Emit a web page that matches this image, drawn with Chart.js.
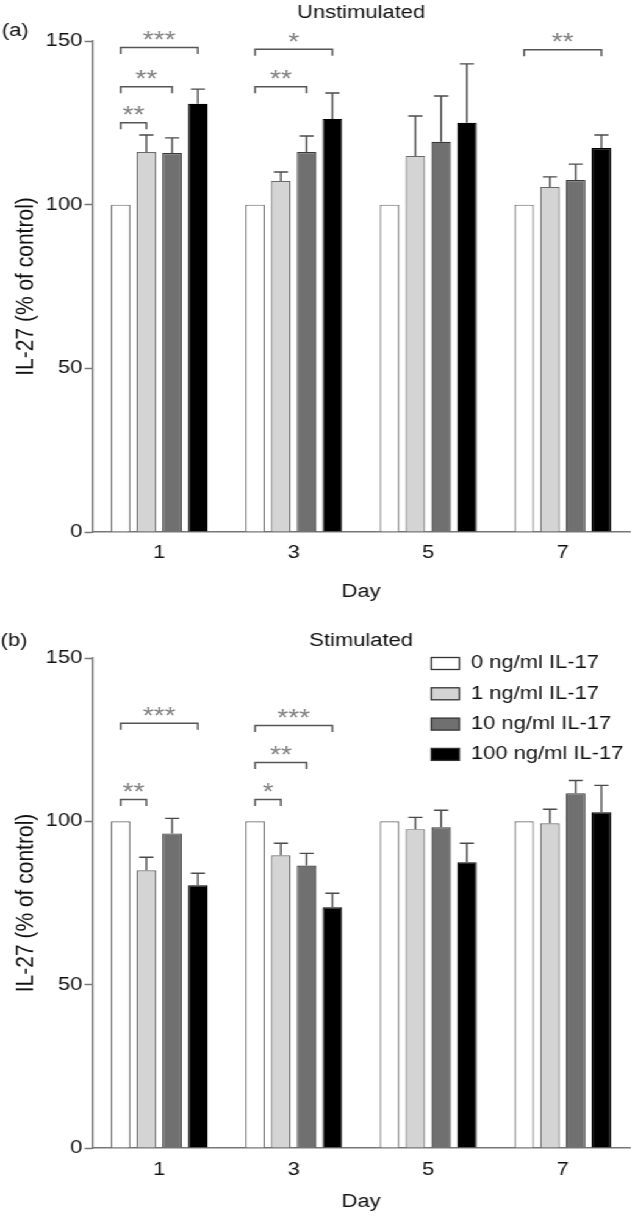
<!DOCTYPE html>
<html><head><meta charset="utf-8">
<script src="https://cdn.jsdelivr.net/npm/chart.js@4.4.1/dist/chart.umd.min.js"></script>
<style>
html,body{margin:0;padding:0;background:#fff;overflow:hidden;width:632px;height:1216px;}
#stage{position:absolute;left:0;top:0;width:518px;height:1216px;transform:scaleX(1.22);transform-origin:0 0;}
#pa{position:absolute;left:0;top:0;width:518px;height:610px;}
#pb{position:absolute;left:0;top:616px;width:518px;height:600px;}
</style></head><body>
<div id="stage"><div id="pa"><canvas id="ca"></canvas></div><div id="pb"><canvas id="cb"></canvas></div></div>
<script>
// ---- data ----
const days = ['1', '3', '5', '7'];
const seriesLabels = ['0 ng/ml IL-17', '1 ng/ml IL-17', '10 ng/ml IL-17', '100 ng/ml IL-17'];
const yTicks = [0, 50, 100, 150];

const unstim0   = [100, 100, 100, 100];
const unstim1   = [116.1, 107.2, 114.9, 105.4];
const unstim10  = [115.8, 116.1, 119.2, 107.5];
const unstim100 = [130.8, 126.2, 125.0, 117.3];
const unstimErr1   = [5.2, 2.8, 12.2, 3.1];
const unstimErr10  = [4.6, 4.9, 14.0, 4.9];
const unstimErr100 = [4.5, 7.9, 18.0, 4.0];

const stim0   = [100, 100, 100, 100];
const stim1   = [85.0, 89.6, 97.6, 99.4];
const stim10  = [96.3, 86.5, 98.2, 108.6];
const stim100 = [80.4, 73.7, 87.5, 102.8];
const stimErr1   = [4.0, 3.7, 3.6, 4.3];
const stimErr10  = [4.6, 3.7, 5.2, 3.9];
const stimErr100 = [3.7, 4.3, 5.8, 8.2];

// significance brackets: [day index, from series, to series, level, stars]
const unstimSig = [[0,0,1,125,'**'], [0,0,2,136,'**'], [0,0,3,148,'***'], [1,0,2,136,'**'], [1,0,3,147.5,'*'], [3,0,3,147.3,'**']];
const stimSig   = [[0,0,1,106.7,'**'], [0,0,3,130,'***'], [1,0,1,106.7,'*'], [1,0,2,118,'**'], [1,0,3,129.3,'***']];

// ---- styling ----
const FAM = '"Liberation Sans", Arial, Helvetica, sans-serif';
Chart.defaults.font.family = FAM;
const fills   = ['#ffffff', '#d4d4d4', '#707070', '#000000'];
const borders = ['#6a6a6a', '#6a6a6a', '#3a3a3a', '#000000'];

const extras = {
  id: 'extras',
  afterDatasetsDraw(chart, args, o) {
    const ctx = chart.ctx, ys = chart.scales.y, ca = chart.chartArea;
    ctx.save();
    // error bars
    ctx.strokeStyle = '#4a4a4a'; ctx.lineWidth = 1.4;
    o.errors.forEach((arr, di) => {
      if (!arr) return;
      chart.getDatasetMeta(di).data.forEach((bar, j) => {
        const v = chart.data.datasets[di].data[j];
        const top = ys.getPixelForValue(v + arr[j]);
        ctx.beginPath();
        ctx.moveTo(bar.x, bar.y); ctx.lineTo(bar.x, top);
        ctx.moveTo(bar.x - 5.8, top); ctx.lineTo(bar.x + 5.8, top);
        ctx.stroke();
      });
    });
    // significance brackets
    o.sig.forEach(([d, a, b, lvl, txt]) => {
      const xa = chart.getDatasetMeta(a).data[d].x, xb = chart.getDatasetMeta(b).data[d].x;
      const yy = ys.getPixelForValue(lvl);
      ctx.strokeStyle = '#555'; ctx.lineWidth = 1.5;
      ctx.beginPath();
      ctx.moveTo(xa, yy + 6.5); ctx.lineTo(xa, yy); ctx.lineTo(xb, yy); ctx.lineTo(xb, yy + 6.5);
      ctx.stroke();
      ctx.fillStyle = '#808080'; ctx.font = '23px ' + FAM;
      ctx.textAlign = 'center'; ctx.textBaseline = 'alphabetic';
      ctx.fillText(txt, (xa + xb) / 2, yy + 0.5);
    });
    // panel label and title
    ctx.fillStyle = '#111'; ctx.font = '18px ' + FAM; ctx.textBaseline = 'alphabetic';
    ctx.textAlign = 'left'; ctx.fillText(o.panel, o.panelX, o.panelY);
    ctx.textAlign = 'center'; ctx.fillText(o.title, (ca.left + ca.right) / 2, o.titleY);
    // legend
    if (o.legend) {
      chart.data.datasets.forEach((ds, i) => {
        const cy = o.legendY + i * 30.3;
        ctx.fillStyle = ds.backgroundColor;
        ctx.fillRect(353.5, cy - 6, 23, 12);
        ctx.strokeStyle = '#333'; ctx.lineWidth = 1.3;
        ctx.strokeRect(353.5, cy - 6, 23, 12);
        ctx.fillStyle = '#111'; ctx.textAlign = 'left'; ctx.textBaseline = 'middle';
        ctx.font = '18px ' + FAM;
        ctx.fillText(ds.label, 386, cy);
      });
    }
    ctx.restore();
  }
};

function makeChart(id, vals, errs, sig, o) {
  return new Chart(document.getElementById(id), {
    type: 'bar',
    data: {
      labels: days,
      datasets: vals.map((v, i) => ({
        label: seriesLabels[i], data: v,
        backgroundColor: fills[i], borderColor: borders[i], borderWidth: 1.2,
        categoryPercentage: 0.766, barPercentage: 0.758
      }))
    },
    options: {
      responsive: true, maintainAspectRatio: false, animation: false,
      layout: { padding: { top: o.top, right: 1.6, left: 0, bottom: 0 } },
      plugins: {
        legend: { display: false }, tooltip: { enabled: false },
        extras: { errors: errs, sig: sig, panel: o.panel, panelX: o.panelX, panelY: o.panelY,
                  title: o.title, titleY: o.titleY, legend: o.legend, legendY: o.legendY }
      },
      scales: {
        x: {
          grid: { display: false, drawTicks: false },
          border: { color: '#777', width: 1.5 },
          ticks: { font: { size: 18 }, color: '#111', padding: o.xpad },
          title: { display: true, text: 'Day', font: { size: 18 }, color: '#111', padding: { top: 0, bottom: o.titlePad } },
          afterFit(s) { s.height = o.xh; }
        },
        y: {
          min: 0, max: 150,
          afterBuildTicks(s) { s.ticks = yTicks.map(v => ({ value: v })); },
          grid: { drawOnChartArea: false, drawTicks: true, tickLength: 6, tickColor: '#777', tickWidth: 1.5 },
          border: { color: '#777', width: 1.5 },
          ticks: { font: { size: 18 }, color: '#111', padding: 2 },
          title: { display: true, text: 'IL-27 (% of control)', font: { size: 21 }, color: '#111', padding: { top: 8.7, bottom: 0 } },
          afterFit(s) { s.width = 75.4; }
        }
      }
    },
    plugins: [extras]
  });
}

makeChart('ca', [unstim0, unstim1, unstim10, unstim100], [null, unstimErr1, unstimErr10, unstimErr100], unstimSig,
  { top: 41, xh: 78, xpad: 10, titlePad: 7.5, panel: '(a)', panelX: 1.6, panelY: 36, title: 'Unstimulated', titleY: 18, legend: false });
makeChart('cb', [stim0, stim1, stim10, stim100], [null, stimErr1, stimErr10, stimErr100], stimSig,
  { top: 42, xh: 68, xpad: 11, titlePad: 3.5, panel: '(b)', panelX: 0.5, panelY: 30, title: 'Stimulated', titleY: 30, legend: true, legendY: 47.5 });
</script>
</body></html>
